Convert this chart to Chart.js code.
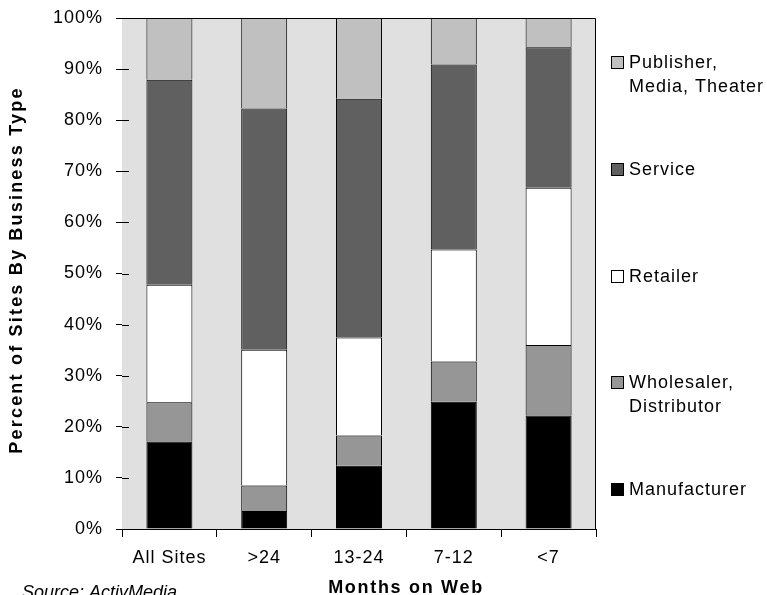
<!DOCTYPE html>
<html>
<head>
<meta charset="utf-8">
<script src="https://cdn.jsdelivr.net/npm/chart.js@4/dist/chart.umd.min.js"></script>
<style>
  html, body { margin: 0; padding: 0; background: #fff; }
  #wrap { width: 767px; height: 595px; }
</style>
</head>
<body>
<div id="wrap"><canvas id="c" width="767" height="595"></canvas></div>
<script>
// Share of sites by business type, grouped by how long each site has been online
const categories = ['All Sites', '>24', '13-24', '7-12', '<7'];
const manufacturer = [17.1, 3.5, 12.4, 24.9, 22.2];
const wholesaler   = [7.7, 5.0, 5.9, 7.9, 13.8];
const retailer     = [23.0, 26.6, 19.2, 21.9, 30.8];
const service      = [40.1, 47.2, 46.7, 36.2, 27.5];
const publisher    = [12.1, 17.7, 15.8, 9.1, 5.7];

const yTickLabels = ['0%', '10%', '20%', '30%', '40%', '50%', '60%', '70%', '80%', '90%', '100%'];
const seriesNames = [
  ['Manufacturer'],
  ['Wholesaler,', 'Distributor'],
  ['Retailer'],
  ['Service'],
  ['Publisher,', 'Media, Theater']
];
const seriesColors = ['#000000', '#969696', '#ffffff', '#606060', '#c0c0c0'];
const yTitle = 'Percent of Sites By Business Type';
const xTitle = 'Months on Web';
const sourceNote = 'Source: ActivMedia';

const FAMILY = "'Liberation Sans', Arial, Helvetica, sans-serif";
const PLOT_BG = '#e0e0e0';

const seriesValues = [manufacturer, wholesaler, retailer, service, publisher];
const datasets = seriesValues.map((vals, i) => ({
  label: seriesNames[i].join(' '),
  data: vals,
  backgroundColor: seriesColors[i],
  borderColor: '#000000',
  borderWidth: 1,
  barPercentage: 0.485,
  categoryPercentage: 1.0
}));

// Wide letter spacing used by all text on the chart
const spacing = {
  id: 'spacing',
  beforeLayout(chart) { chart.ctx.letterSpacing = '1px'; },
  beforeDraw(chart) { chart.ctx.letterSpacing = '1px'; }
};

// Grey plot panel with a frame on top and right
const panel = {
  id: 'panel',
  beforeDatasetsDraw(chart) {
    const { ctx, chartArea: a } = chart;
    ctx.save();
    ctx.fillStyle = PLOT_BG;
    ctx.fillRect(a.left, a.top, a.right - a.left, a.bottom - a.top);
    ctx.restore();
  },
  afterDatasetsDraw(chart) {
    const { ctx, chartArea: a, scales } = chart;
    ctx.save();
    ctx.strokeStyle = '#000';
    ctx.lineWidth = 1;
    ctx.beginPath();
    const t = Math.round(a.top) + 0.5, r = Math.round(a.right) - 0.5;
    ctx.moveTo(Math.round(a.left), t);
    ctx.lineTo(r, t);
    ctx.lineTo(r, Math.round(a.bottom));
    // tick marks that cross into the plot
    const y = scales.y;
    y.ticks.forEach(tk => {
      const py = Math.round(y.getPixelForValue(tk.value)) + 0.5;
      ctx.moveTo(a.left, py);
      ctx.lineTo(a.left + 7, py);
    });
    ctx.stroke();
    ctx.restore();
  }
};

// Legend, axis titles and source note
const annotations = {
  id: 'annotations',
  afterDraw(chart) {
    const { ctx } = chart;
    ctx.save();
    ctx.fillStyle = '#000';
    ctx.textAlign = 'left';
    ctx.textBaseline = 'alphabetic';

    // legend, topmost series first
    ctx.font = '18px ' + FAMILY;
    ctx.letterSpacing = '1px';
    const order = [4, 3, 2, 1, 0];
    order.forEach((si, k) => {
      const base = 68 + k * 106.8;
      ctx.fillStyle = seriesColors[si];
      ctx.fillRect(611, Math.round(base) - 12, 12, 12);
      ctx.strokeStyle = '#000';
      ctx.lineWidth = 1;
      ctx.strokeRect(611.5, Math.round(base) - 11.5, 12, 12);
      ctx.fillStyle = '#000';
      seriesNames[si].forEach((line, j) => {
        ctx.fillText(line, 629, base + j * 24);
      });
    });

    // y axis title
    ctx.font = 'bold 18px ' + FAMILY;
    ctx.letterSpacing = '2.2px';
    ctx.save();
    ctx.translate(17, 270);
    ctx.rotate(-Math.PI / 2);
    ctx.textAlign = 'center';
    ctx.textBaseline = 'middle';
    ctx.fillText(yTitle, 0, 0);
    ctx.restore();

    // x axis title
    ctx.letterSpacing = '1.7px';
    ctx.textAlign = 'center';
    ctx.fillText(xTitle, 406, 593);

    // source note
    ctx.font = 'italic 18px ' + FAMILY;
    ctx.letterSpacing = '0px';
    ctx.textAlign = 'left';
    ctx.fillText(sourceNote, 22, 598);
    ctx.restore();
  }
};

new Chart(document.getElementById('c'), {
  type: 'bar',
  data: { labels: categories, datasets },
  plugins: [spacing, panel, annotations],
  options: {
    responsive: false,
    animation: false,
    devicePixelRatio: 1,
    layout: { padding: { left: 0, top: 18, right: 171, bottom: 0 } },
    plugins: { legend: { display: false }, tooltip: { enabled: false } },
    scales: {
      x: {
        stacked: true,
        offset: true,
        grid: { display: true, drawOnChartArea: false, drawTicks: true, tickLength: 8, color: '#000', offset: true },
        border: { display: true, color: '#000', width: 1 },
        ticks: { color: '#000', font: { family: FAMILY, size: 18 }, padding: 10, maxRotation: 0, autoSkip: false },
        afterFit(s) { s.height = 66; s.paddingLeft = 0; s.paddingRight = 0; }
      },
      y: {
        stacked: true,
        min: 0,
        max: 100,
        grid: { display: true, drawOnChartArea: false, drawTicks: true, tickLength: 6, color: '#000' },
        border: { display: true, color: '#000', width: 1 },
        ticks: {
          stepSize: 10,
          color: '#000',
          font: { family: FAMILY, size: 18 },
          padding: 13,
          callback: (v, i) => yTickLabels[i]
        },
        afterFit(s) { s.width = 122; s.paddingTop = 0; s.paddingBottom = 0; }
      }
    }
  }
});
</script>
</body>
</html>
